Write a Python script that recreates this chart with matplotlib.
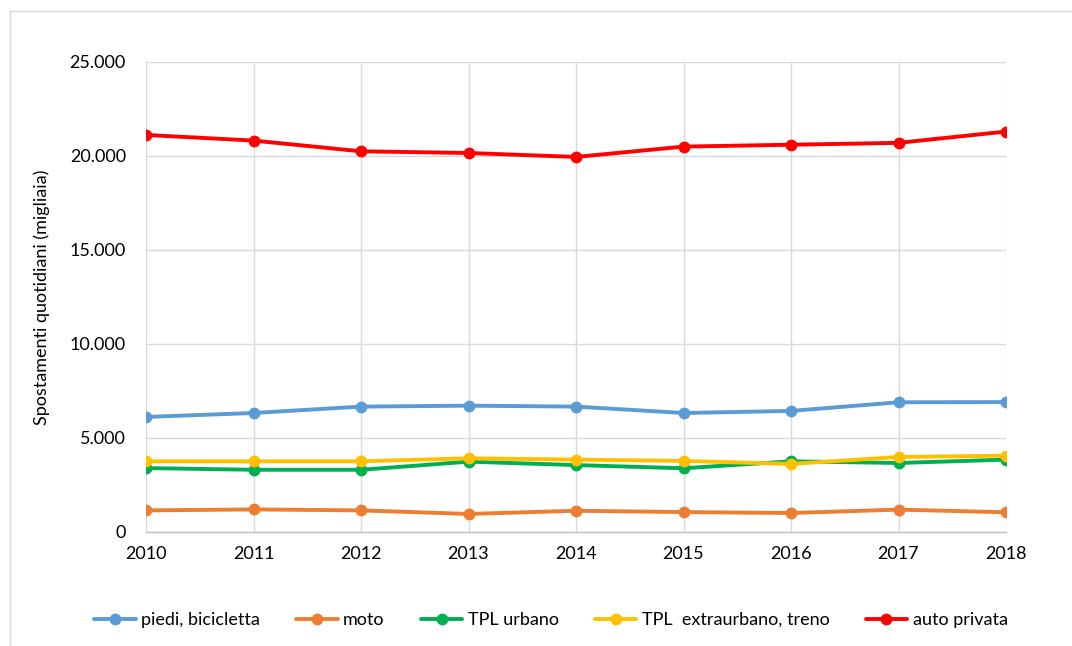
import matplotlib
matplotlib.use("Agg")
import matplotlib.pyplot as plt
from matplotlib.lines import Line2D
from matplotlib.ticker import FuncFormatter

plt.rcParams['font.family'] = ['Lato', 'DejaVu Sans']

years = [2010, 2011, 2012, 2013, 2014, 2015, 2016, 2017, 2018]
piedi = [6120, 6330, 6670, 6720, 6670, 6330, 6440, 6900, 6910]
moto = [1150, 1200, 1150, 960, 1130, 1060, 1010, 1190, 1050]
tpl_urbano = [3400, 3310, 3310, 3740, 3560, 3390, 3760, 3670, 3850]
tpl_extra = [3760, 3760, 3760, 3920, 3850, 3780, 3620, 3990, 4060]
auto = [21120, 20820, 20250, 20160, 19950, 20500, 20600, 20700, 21300]

series_names = ["piedi, bicicletta", "moto", "TPL urbano", "TPL  extraurbano, treno", "auto privata"]
series_values = [piedi, moto, tpl_urbano, tpl_extra, auto]
colors = ["#5b9bd5", "#ed7d31", "#00b050", "#ffc000", "#ff0000"]
yticks = [0, 5000, 10000, 15000, 20000, 25000]

fig = plt.figure(figsize=(10.72, 6.46), dpi=100)
ax = fig.add_axes([146/1072, 1-532/646, 860/1072, 470/646])

handles = []
for name, vals, c in zip(series_names, series_values, colors):
    h, = ax.plot(years, vals, color=c, lw=2.8, marker='o', markersize=7.5,
                 label=name, solid_capstyle='round', zorder=3)
    handles.append(h)

ax.set_xlim(2010, 2018)
ax.set_ylim(0, 25000)
ax.set_xticks(years)
ax.set_yticks(yticks)
ax.yaxis.set_major_formatter(FuncFormatter(lambda v, p: f"{int(v):,}".replace(",", ".")))
ax.grid(True, color="#d9d9d9", lw=1.0, zorder=0)
ax.set_axisbelow(True)
for s in ['top', 'right', 'left']:
    ax.spines[s].set_visible(False)
ax.spines['bottom'].set_color("#bfbfbf")
ax.spines['bottom'].set_linewidth(1.0)
ax.tick_params(length=0, labelsize=13, colors="#000000")
ax.tick_params(axis='x', pad=10)
ax.tick_params(axis='y', pad=14.5)
ax.set_ylabel("Spostamenti quotidiani (migliaia)", fontsize=13, labelpad=14)

fig.legend(handles=handles, loc='center', bbox_to_anchor=(551/1072, 1-620/646),
           ncol=5, frameon=False, fontsize=13, handlelength=2.3, columnspacing=2.0,
           handletextpad=0.3)

# figure border lines (top and left)
fig.add_artist(Line2D([10/1072, 1], [1-11/646, 1-11/646], color="#d9d9d9", lw=1.0,
                      transform=fig.transFigure))
fig.add_artist(Line2D([10/1072, 10/1072], [0, 1-11/646], color="#d9d9d9", lw=1.0,
                      transform=fig.transFigure))

fig.savefig("out.png", dpi=100)
